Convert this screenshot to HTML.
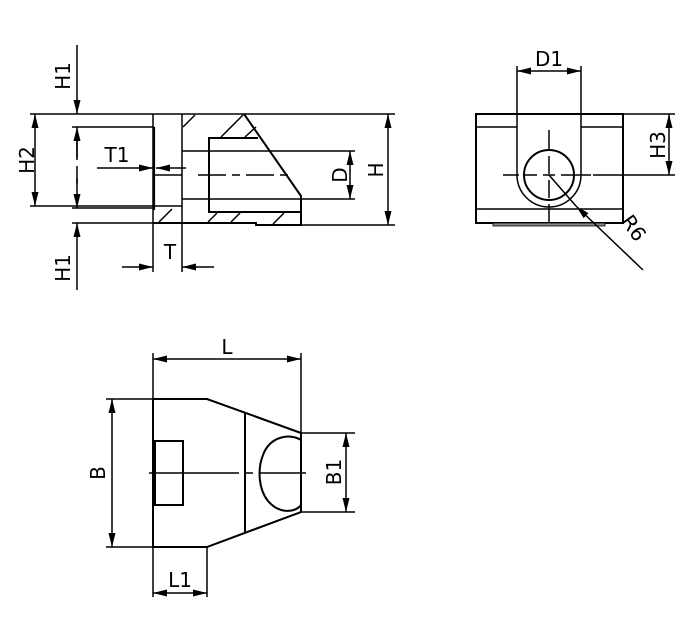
<!DOCTYPE html>
<html><head><style>body{margin:0;background:#fff}svg{display:block}text{font-family:"DejaVu Sans","Liberation Sans",sans-serif;font-size:20px;fill:#000}</style></head><body>
<svg width="692" height="622" viewBox="0 0 692 622" xmlns="http://www.w3.org/2000/svg">
<defs><marker id="a" viewBox="0 0 14 7" refX="14" refY="3.5" markerWidth="14" markerHeight="7" orient="auto-start-reverse" markerUnits="userSpaceOnUse"><path d="M0,0L14,3.5L0,7z" fill="#000"/></marker></defs>
<g stroke="#000" stroke-width="1.5" fill="none">
<line x1="30" y1="114" x2="395" y2="114"/>
<line x1="30" y1="206" x2="154" y2="206"/>
<line x1="72" y1="127" x2="154" y2="127"/>
<line x1="72" y1="208" x2="154" y2="208"/>
<line x1="72" y1="223" x2="154" y2="223"/>
<line x1="300" y1="225" x2="395" y2="225"/>
<line x1="153" y1="114" x2="153" y2="272"/>
<line x1="182" y1="114" x2="182" y2="272"/>
<line x1="154" y1="127" x2="154" y2="210" stroke-width="2.2"/>
<line x1="154" y1="175" x2="182" y2="175"/>
<line x1="154" y1="206" x2="182" y2="206"/>
<g stroke-width="2">
<polyline points="154,223 256,223 256,225 301,225 301,196 244,114"/>
<polyline points="258,138 209,138 209,212 301,212"/>
</g>
<line x1="182" y1="151" x2="355" y2="151"/>
<line x1="182" y1="199" x2="355" y2="199"/>
<line x1="198" y1="175" x2="292" y2="175" stroke-dasharray="28,6,8,6"/>
<line x1="183" y1="127" x2="195" y2="115"/>
<line x1="221" y1="137" x2="243" y2="115"/>
<line x1="245" y1="137" x2="256" y2="127"/>
<line x1="159" y1="222" x2="172" y2="209"/>
<line x1="208" y1="222" x2="217" y2="213"/>
<line x1="231" y1="222" x2="240" y2="213"/>
<line x1="273" y1="224" x2="284" y2="213"/>
<line x1="77" y1="45" x2="77" y2="114" marker-end="url(#a)"/>
<line x1="77" y1="160" x2="77" y2="127" marker-end="url(#a)"/>
<line x1="77" y1="140" x2="77" y2="190" stroke-dasharray="18,8"/>
<line x1="77" y1="178" x2="77" y2="208" marker-end="url(#a)"/>
<line x1="77" y1="290" x2="77" y2="223" marker-end="url(#a)"/>
<line x1="35" y1="114" x2="35" y2="206" marker-start="url(#a)" marker-end="url(#a)"/>
<line x1="97" y1="168" x2="153" y2="168" marker-end="url(#a)"/>
<line x1="186" y1="168" x2="156" y2="168" marker-end="url(#a)"/>
<line x1="122" y1="267" x2="153" y2="267" marker-end="url(#a)"/>
<line x1="214" y1="267" x2="182" y2="267" marker-end="url(#a)"/>
<line x1="350" y1="151" x2="350" y2="199" marker-start="url(#a)" marker-end="url(#a)"/>
<line x1="388" y1="114" x2="388" y2="225" marker-start="url(#a)" marker-end="url(#a)"/>
<rect x="476" y="114" width="147" height="109" stroke-width="2"/>
<rect x="493" y="223" width="112" height="3" fill="#888" stroke-width="0.8"/>
<line x1="476" y1="127" x2="517" y2="127"/>
<line x1="581" y1="127" x2="623" y2="127"/>
<line x1="476" y1="209" x2="623" y2="209"/>
<path d="M517,66 V175 A32,32 0 0 0 581,175 V66"/>
<circle cx="549" cy="175" r="25" stroke-width="2"/>
<line x1="503" y1="175" x2="593" y2="175" stroke-dasharray="16,6,12,6,12,6,30"/>
<line x1="549" y1="130" x2="549" y2="222" stroke-dasharray="20,6,18,6,18,6,30"/>
<line x1="517" y1="71" x2="581" y2="71" marker-start="url(#a)" marker-end="url(#a)"/>
<line x1="623" y1="114" x2="675" y2="114"/>
<line x1="593" y1="175" x2="675" y2="175"/>
<line x1="669" y1="114" x2="669" y2="175" marker-start="url(#a)" marker-end="url(#a)"/>
<line x1="643" y1="270" x2="576" y2="206" marker-end="url(#a)"/>
<line x1="576" y1="206" x2="549" y2="175"/>
<line x1="153" y1="353" x2="153" y2="597"/>
<line x1="301" y1="353" x2="301" y2="433"/>
<line x1="153" y1="359" x2="301" y2="359" marker-start="url(#a)" marker-end="url(#a)"/>
<line x1="106" y1="399" x2="153" y2="399"/>
<line x1="106" y1="547" x2="153" y2="547"/>
<line x1="112" y1="399" x2="112" y2="547" marker-start="url(#a)" marker-end="url(#a)"/>
<g stroke-width="2">
<polyline points="153,399 207,399 301,433 301,512 207,547 153,547 153,399"/>
<line x1="245" y1="413" x2="245" y2="532"/>
<rect x="155" y="441" width="28" height="64"/>
<path d="M301,440 C290,433 270,436 263,455 C257,470 259,490 268,501 C280,515 296,512 301,505"/>
</g>
<line x1="149" y1="473" x2="306" y2="473" stroke-dasharray="90,6,8,6"/>
<line x1="301" y1="433" x2="355" y2="433"/>
<line x1="301" y1="512" x2="355" y2="512"/>
<line x1="346" y1="433" x2="346" y2="512" marker-start="url(#a)" marker-end="url(#a)"/>
<line x1="207" y1="547" x2="207" y2="597"/>
<line x1="153" y1="593" x2="207" y2="593" marker-start="url(#a)" marker-end="url(#a)"/>
</g>
<text transform="translate(70,76) rotate(-90)" text-anchor="middle">H1</text>
<text transform="translate(70,268) rotate(-90)" text-anchor="middle">H1</text>
<text transform="translate(34,160) rotate(-90)" text-anchor="middle">H2</text>
<text x="117" y="162" text-anchor="middle">T1</text>
<text x="170" y="259" text-anchor="middle">T</text>
<text transform="translate(347,175) rotate(-90)" text-anchor="middle">D</text>
<text transform="translate(383,170) rotate(-90)" text-anchor="middle">H</text>
<text x="549" y="66" text-anchor="middle">D1</text>
<text transform="translate(665,145) rotate(-90)" text-anchor="middle">H3</text>
<text transform="translate(628,232) rotate(55)" text-anchor="middle">R6</text>
<text x="227" y="354" text-anchor="middle">L</text>
<text transform="translate(105,473) rotate(-90)" text-anchor="middle">B</text>
<text transform="translate(341,472) rotate(-90)" text-anchor="middle">B1</text>
<text x="180" y="587" text-anchor="middle">L1</text>
</svg>
</body></html>
